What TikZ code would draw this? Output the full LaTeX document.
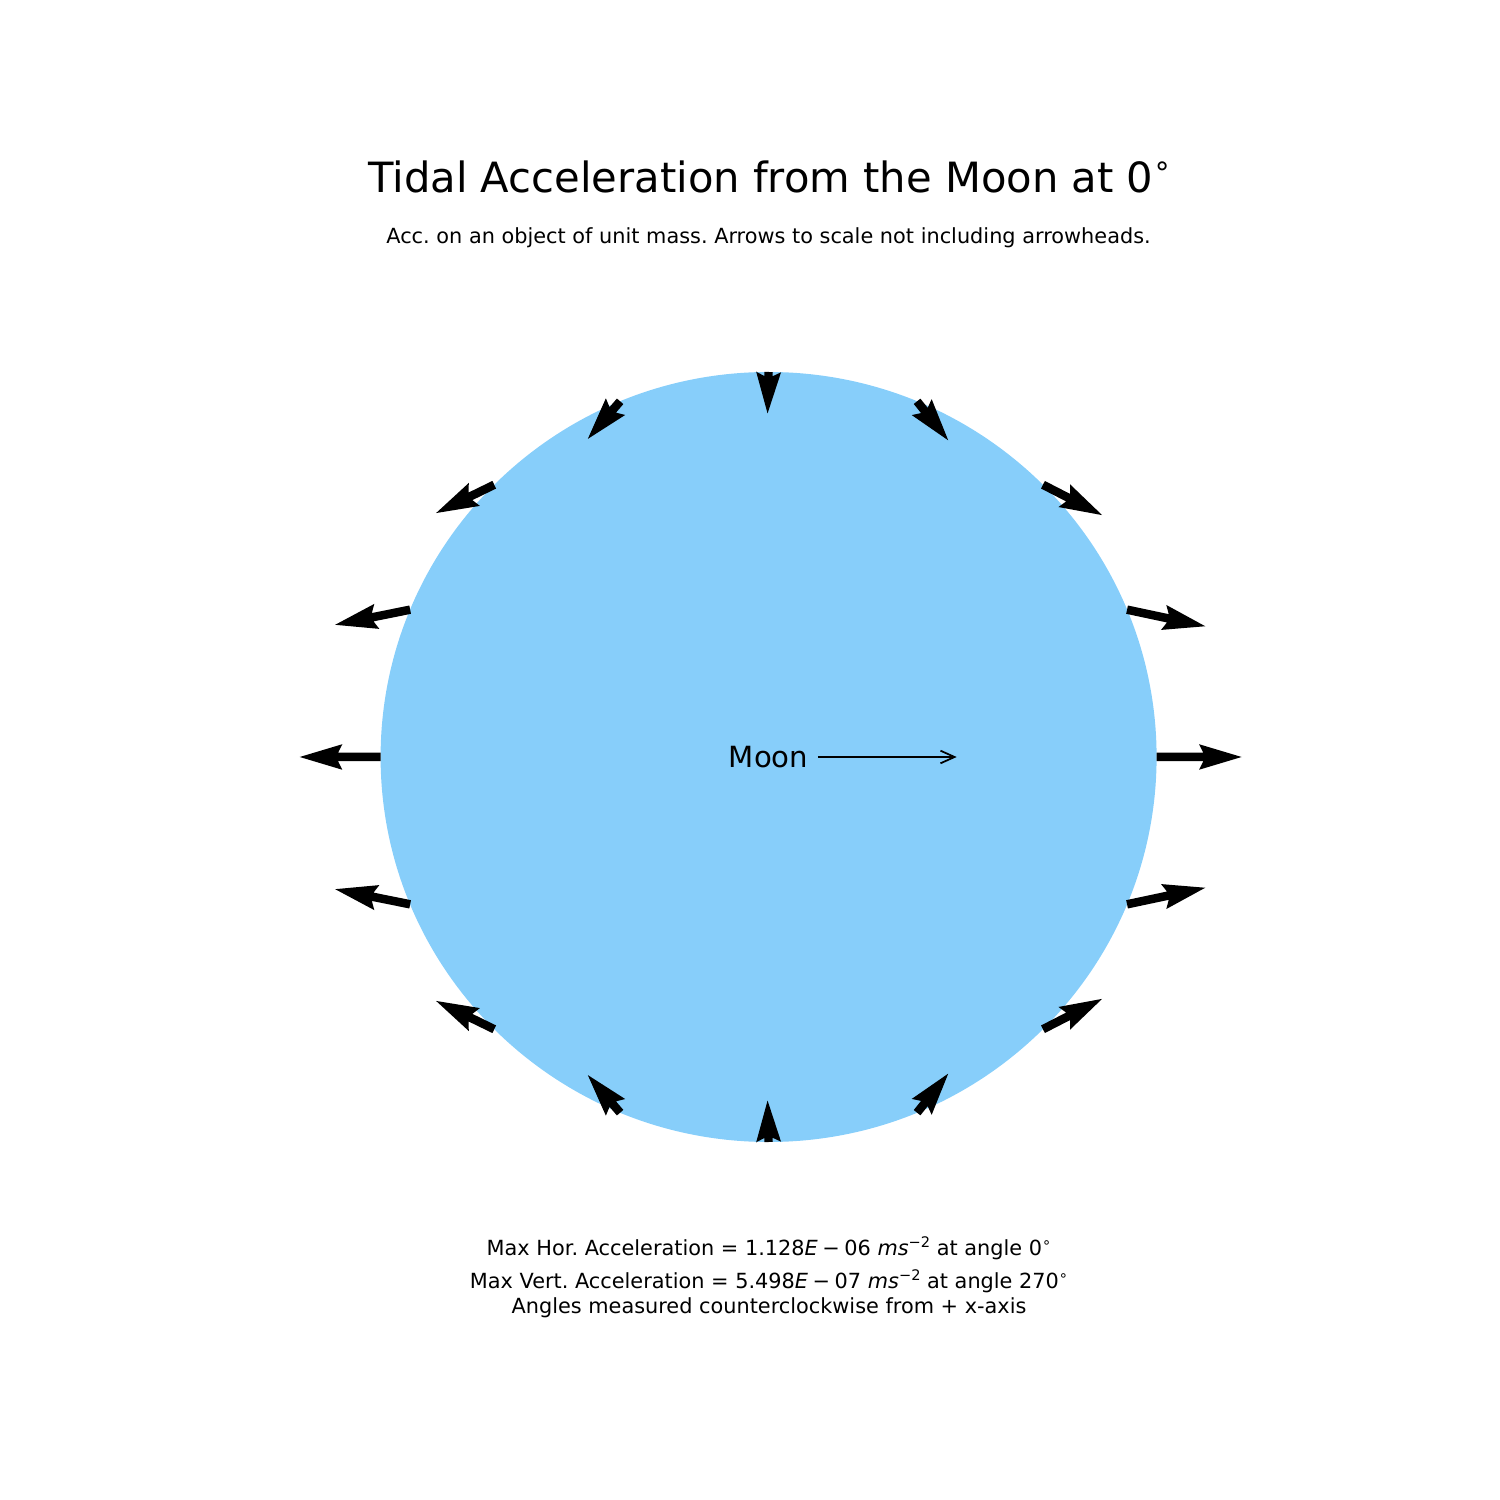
\documentclass[tikz,border=0pt]{standalone}
\usepackage{fontspec}
\setmainfont{DejaVu Sans}
\usepackage{graphicx}
\usetikzlibrary{arrows.meta}
\definecolor{earthblue}{RGB}{135,206,250}
\newcommand\supx[1]{\raisebox{0.42em}{\scalebox{0.7}{#1}}}
\newcommand\binmin{\hspace{0.22em}−\hspace{0.22em}}
\frenchspacing
\begin{document}
\begin{tikzpicture}[x=1cm,y=1cm,
  titletext/.style={font=\fontsize{11.86}{14}\selectfont, anchor=base, inner sep=0},
  smalltext/.style={font=\fontsize{5.93}{7}\selectfont, anchor=base, inner sep=0},
  moontext/.style={font=\fontsize{8.3}{10}\selectfont, inner ysep=0, inner xsep=0.09cm},
  quiverarrow/.style={fill=black},
  moonarrow/.style={-{Straight Barb[length=4pt,width=3.6pt]}, line width=0.5pt},
]
\useasboundingbox (0,0) rectangle (15,15);
\fill[earthblue] (7.686,7.43) ellipse [x radius=3.88, y radius=3.85];
\foreach \i in {0,...,15}{
  \pgfmathsetmacro\thA{22.5*\i}
  \pgfmathsetmacro\cA{cos(\thA)}
  \pgfmathsetmacro\sA{sin(\thA)}
  \pgfmathsetmacro\gR{(3*(\cA)*(\cA)-1)+1.5*0.0166*(5*(\cA)*(\cA)*(\cA)-3*(\cA))}
  \pgfmathsetmacro\gT{-3*(\sA)*(\cA)-0.0166*(\sA)*(15*(\cA)*(\cA)-3)/2}
  \pgfmathsetmacro\gX{0.4146*((\gR)*(\cA)-(\gT)*(\sA))}
  \pgfmathsetmacro\gY{0.4146*((\gR)*(\sA)+(\gT)*(\cA))}
  \pgfmathsetmacro\Lq{sqrt((\gX)*(\gX)+(\gY)*(\gY))}
  \pgfmathsetmacro\aq{atan2(\gY,\gX)}
  \pgfmathsetmacro\wq{0.085*min(1,\Lq/0.425)}
  \pgfmathsetmacro\hq{\wq/2}
  \coordinate (tail\i) at ({7.686+3.88*(\cA)},{7.43+3.85*(\sA)});
  \fill[quiverarrow, shift={(tail\i)}, rotate=\aq] (0,\hq) -- ({\Lq-4.5*\wq},\hq) -- ({\Lq-5*\wq},{3*\hq}) -- (\Lq,0) -- ({\Lq-5*\wq},{-3*\hq}) -- ({\Lq-4.5*\wq},{-\hq}) -- (0,{-\hq}) -- cycle;
}
\node[moontext] (moon) at (7.685,7.43) {Moon};
\coordinate (moontip) at (9.567,7.43);
\draw[moonarrow] (moon) -- (moontip);
\node[titletext] (title) at (7.70,13.073) {Tidal Acceleration from the Moon at 0\supx{∘}};
\node[smalltext] (subtitle) at (7.685,12.567) {Acc. on an object of unit mass. Arrows to scale not including arrowheads.};
\node[smalltext] (maxhor) at (7.69,2.44) {Max Hor. Acceleration = 1.128{\itshape E}\binmin06 {\itshape ms}\supx{−2} at angle 0\supx{∘}};
\node[smalltext] (maxvert) at (7.69,2.11) {Max Vert. Acceleration = 5.498{\itshape E}\binmin07 {\itshape ms}\supx{−2} at angle 270\supx{∘}};
\node[smalltext] (angles) at (7.69,1.867) {Angles measured counterclockwise from + x-axis};
\end{tikzpicture}
\end{document}
